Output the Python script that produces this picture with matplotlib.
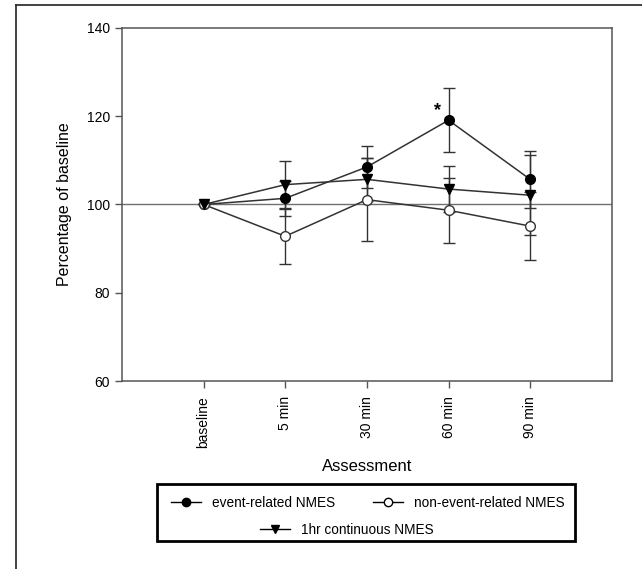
import matplotlib.pyplot as plt
from matplotlib.lines import Line2D
from matplotlib.patches import Rectangle

plt.rcParams['font.family'] = ['Liberation Sans', 'DejaVu Sans']

# data
labels = ['baseline', '5 min', '30 min', '60 min', '90 min']
pos = [1, 2, 3, 4, 5]
event = [100, 101.4, 108.5, 119.1, 105.7]
event_err = [0, 4.0, 4.8, 7.3, 6.4]
nonevent = [100, 92.8, 101.1, 98.7, 95.1]
nonevent_err = [0, 6.2, 9.4, 7.4, 7.7]
contin = [100, 104.5, 105.7, 103.5, 102.1]
contin_err = [0, 5.3, 4.9, 5.3, 9.1]

fig = plt.figure(figsize=(6.42, 5.69), dpi=100)
ax = fig.add_axes([0.190, 0.3304, 0.763, 0.6204])

ax.axhline(100, color='#707070', lw=1.0, zorder=1)

lc = '#333333'
kw = dict(lw=1.1, capsize=4, capthick=1.0, elinewidth=1.0, ms=7, zorder=3)
ax.errorbar(pos, event, yerr=event_err, color=lc, ecolor=lc, marker='o',
            mfc='black', mec='black', **kw)
ax.errorbar(pos, nonevent, yerr=nonevent_err, color=lc, ecolor=lc, marker='o',
            mfc='white', mec=lc, **kw)
ax.errorbar(pos, contin, yerr=contin_err, color=lc, ecolor=lc, marker='v',
            mfc='black', mec='black', **kw)

ax.text(3.86, 121.2, '*', fontsize=13, fontweight='bold', ha='center', va='center')

ax.set_xlim(0, 6)
ax.set_ylim(60, 140)
ax.set_yticks([60, 80, 100, 120, 140])
ax.set_xticks(pos)
ax.set_xticklabels(labels, rotation=90, fontsize=10)
ax.tick_params(axis='y', labelsize=10, length=5, width=1, color='#555555')
ax.tick_params(axis='x', length=5, width=1, color='#555555', pad=6)
for s in ax.spines.values():
    s.set_color('#555555')
    s.set_linewidth(1.1)

ax.set_ylabel('Percentage of baseline', fontsize=11.5, labelpad=11)
ax.set_xlabel('Assessment', fontsize=12, labelpad=8)

# legend box drawn in figure coords, entries in two rows
x0, y0 = 157 / 642, 1 - 541 / 569
w, h = (575 - 157) / 642, (541 - 484) / 569
fig.patches.append(Rectangle((x0, y0), w, h, transform=fig.transFigure,
                             fill=False, ec='black', lw=2.0))

def handle(marker, face):
    return Line2D([], [], color='black', lw=1.0, marker=marker, ms=6,
                  mfc=face, mec='black')

leg1 = fig.legend([handle('o', 'black'), handle('o', 'white')],
                  ['event-related NMES', 'non-event-related NMES'],
                  ncol=2, frameon=False, fontsize=9.8, handlelength=2.2,
                  columnspacing=2.8, loc='center', bbox_to_anchor=(368 / 642, 1 - 503 / 569))
leg2 = fig.legend([handle('v', 'black')], ['1hr continuous NMES'],
                  frameon=False, fontsize=9.8, handlelength=2.2,
                  loc='center', bbox_to_anchor=(347 / 642, 1 - 530 / 569))

# page frame (left and top)
fig.add_artist(Line2D([16 / 642, 16 / 642], [0, 1 - 5 / 569], transform=fig.transFigure,
                      color='#333333', lw=1.3))
fig.add_artist(Line2D([16 / 642, 1], [1 - 5 / 569, 1 - 5 / 569], transform=fig.transFigure,
                      color='#333333', lw=1.3))

fig.savefig('out.png', dpi=100)
